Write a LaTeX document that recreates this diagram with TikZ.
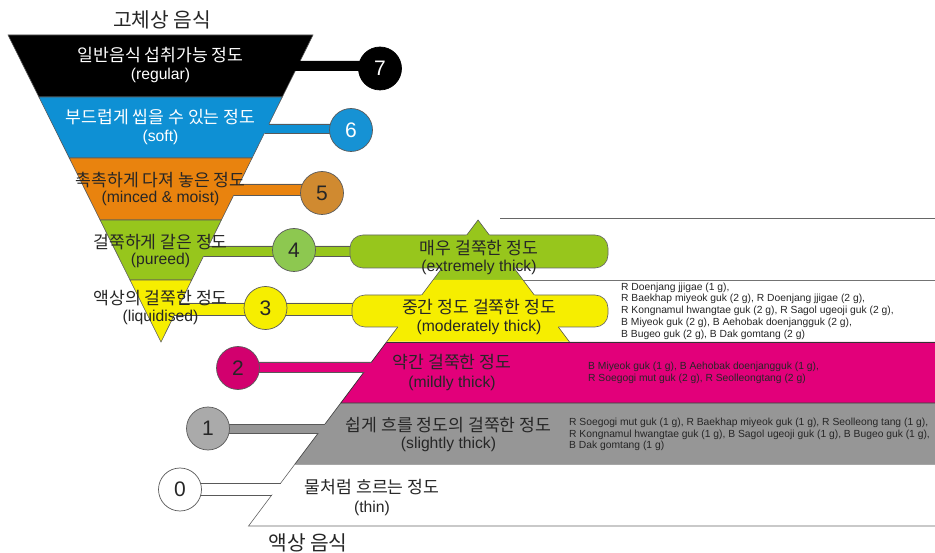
\documentclass[tikz,border=0pt]{standalone}
\usepackage{fontspec}
\setmainfont{Liberation Sans}
\newfontfamily\kr{Noto Sans CJK KR}
\definecolor{cblue}{RGB}{14,144,212}
\definecolor{corange}{RGB}{233,131,14}
\definecolor{cgreen}{RGB}{151,198,28}
\definecolor{cyellow}{RGB}{246,238,0}
\definecolor{cmag}{RGB}{226,0,122}
\definecolor{cgray}{RGB}{150,150,150}
\definecolor{ccirc5}{RGB}{208,138,48}
\definecolor{ccirc4}{RGB}{141,200,80}
\definecolor{ccirc2}{RGB}{210,0,110}
\definecolor{ccirc1}{RGB}{170,170,170}
\definecolor{ccirc6}{RGB}{22,146,212}
\begin{document}
\begin{tikzpicture}[x=1pt,y=-1pt,
  edge/.style={draw=black!65, line width=0.6pt},
  kor/.style={font=\kr\fontsize{17.2}{19}\selectfont, inner sep=0pt, anchor=base},
  lat/.style={font=\fontsize{15.7}{18}\selectfont, inner sep=0pt, anchor=base},
  ttl/.style={font=\kr\fontsize{20.3}{22}\selectfont, inner sep=0pt, anchor=base},
  num/.style={circle, minimum size=43pt, inner sep=0pt, draw=black!65, line width=0.7pt, font=\fontsize{21}{21}\selectfont},
  food/.style={font=\fontsize{10.3}{11.7}\selectfont, align=left, inner sep=0pt, anchor=west, text=black!85},
  pill/.style={rounded corners=13pt, draw=black!60, line width=0.6pt}
]
\useasboundingbox (0,0) rectangle (935,553);
\fill[white] (0,0) rectangle (935,553);

% right side lines
\draw[draw=black!60, line width=0.8pt] (500,218) -- (935,218);
\draw[draw=black!55, line width=0.8pt] (523,280) -- (935,280);

% inverted triangle
\filldraw[fill=black, edge] (8,35) -- (313,35) -- (282.3,97) -- (38.9,97) -- cycle;
\filldraw[fill=cblue, edge] (38.9,97) -- (282.3,97) -- (252.1,158) -- (69.3,158) -- cycle;
\filldraw[fill=corange, edge] (69.3,158) -- (252.1,158) -- (221.4,220) -- (100.1,220) -- cycle;
\filldraw[fill=cgreen, edge] (100.1,220) -- (221.4,220) -- (191.7,280) -- (130,280) -- cycle;
\filldraw[fill=cyellow, edge] (130,280) -- (191.7,280) -- (161,342) -- cycle;

% lower bands
\fill[cmag] (386.5,342) -- (935,342) -- (935,403) -- (340.75,403) -- cycle;
\fill[cgray] (340.75,403) -- (935,403) -- (935,464) -- (295,464) -- cycle;
\draw[draw=black!80, line width=0.7pt] (386.5,342) -- (340.75,403) -- (935,403);
\draw[draw=black!70, line width=0.7pt] (340.75,403) -- (295,464);
\draw[draw=black!35, line width=0.8pt] (295,464) -- (935,464);
\draw[draw=black!60, line width=0.6pt] (295,464) -- (248.5,526) -- (935,526);

% bars
\fill[black] (297,61) -- (380,61) -- (380,71) -- (292,71) -- cycle;
\fill[cblue] (266,124) -- (351,124) -- (351,133) -- (261.5,133) -- cycle;
\draw[edge] (268.9,124) -- (351,124) (264.5,133) -- (351,133);
\fill[corange] (236,184) -- (322,184) -- (322,195) -- (230.8,195) -- cycle;
\draw[edge] (239.2,184) -- (322,184) (233.8,195) -- (322,195);
\fill[cgreen] (205.6,246) -- (362,246) -- (362,256) -- (200.6,256) -- cycle;
\draw[edge] (208.6,246) -- (362,246) (203.6,256) -- (362,256);
\fill[cyellow] (177.3,303) -- (364,303) -- (364,315) -- (171.4,315) -- cycle;
\draw[edge] (180.3,303) -- (364,303) (174.4,315) -- (364,315);
\fill[cmag] (238,362) -- (374.5,362) -- (367,372) -- (238,372) -- cycle;
\draw[edge] (238,362) -- (371.5,362) (238,372) -- (364,372);
\fill[cgray] (208,424) -- (328,424) -- (321.2,433) -- (208,433) -- cycle;
\draw[edge] (208,424) -- (325,424) (208,433) -- (318.25,433);
\fill[white] (180,483.4) -- (283.7,483.4) -- (274.7,494.6) -- (180,494.6) -- cycle;
\draw[edge] (180,483) -- (280.75,483) (180,495) -- (271.75,495);

% pills
\filldraw[fill=cgreen, pill] (350,235) rectangle (608,268);
\filldraw[fill=cyellow, pill] (352,295) rectangle (608,327);

% pyramid
\fill[cgreen] (478,220) -- (523,280) -- (433,280) -- cycle;
\fill[cyellow] (433,280) -- (523,280) -- (569.5,341.6) -- (386.5,341.6) -- cycle;
\draw[edge] (466.75,235) -- (478,220) -- (489.25,235);
\draw[edge] (442,268) -- (421.75,295) (514,268) -- (534.25,295);
\draw[edge] (397.75,327) -- (386.5,342) (558.25,327) -- (569.5,342);
\draw[draw=black!80, line width=0.7pt] (386.5,342) -- (935,342);

% circles
\node[num, fill=black, draw=black, text=white] (c7) at (380,68.5) {7};
\node[num, fill=ccirc6, text=white] (c6) at (351,130) {6};
\node[num, fill=ccirc5, text=black!85] (c5) at (322,193) {5};
\node[num, fill=ccirc4, text=black!85] (c4) at (294,250) {4};
\node[num, fill=cyellow, text=black!85] (c3) at (265.5,308) {3};
\node[num, fill=ccirc2, text=black!85] (c2) at (238,368) {2};
\node[num, fill=ccirc1, text=black!85] (c1) at (208,428.5) {1};
\node[num, fill=white, text=black!85] (c0) at (180,489.5) {0};

% titles
\node[ttl, text=black!85] (top) at (162,27.5) {고체상 음식};
\node[ttl, text=black!85] (bot) at (308,550.5) {액상 음식};

% inverted triangle labels
\node[kor, text=white] (t7a) at (160.5,61.5) {일반음식 섭취가능 정도};
\node[lat, text=white] (t7b) at (160.5,80) {(regular)};
\node[kor, text=white] (t6a) at (160.5,123.5) {부드럽게 씹을 수 있는 정도};
\node[lat, text=white] (t6b) at (160.5,142) {(soft)};
\node[kor, text=black!85] (t5a) at (160.5,186.3) {촉촉하게 다져 놓은 정도};
\node[lat, text=black!85] (t5b) at (160.5,203) {(minced \& moist)};
\node[kor, text=black!85] (t4a) at (160.5,248.3) {걸쭉하게 갈은 정도};
\node[lat, text=black!85] (t4b) at (160.5,265) {(pureed)};
\node[kor, text=black!85] (t3a) at (160.5,304.3) {액상의 걸쭉한 정도};
\node[lat, text=black!85] (t3b) at (160.5,322) {(liquidised)};

% pyramid labels
\node[kor, text=black!85] (p4a) at (479,254.3) {매우 걸쭉한 정도};
\node[lat, text=black!85] (p4b) at (479,272) {(extremely thick)};
\node[kor, text=black!85] (p3a) at (479,313.3) {중간 정도 걸쭉한 정도};
\node[lat, text=black!85] (p3b) at (479,332) {(moderately thick)};
\node[kor, text=black!85] (p2a) at (452,368.3) {약간 걸쭉한 정도};
\node[lat, text=black!85] (p2b) at (452,388) {(mildly thick)};
\node[kor, text=black!85] (p1a) at (448.5,431.3) {쉽게 흐를 정도의 걸쭉한 정도};
\node[lat, text=black!85] (p1b) at (448.5,448) {(slightly thick)};
\node[kor, text=black!85] (p0a) at (372,493.3) {물처럼 흐르는 정도};
\node[lat, text=black!85] (p0b) at (372,512) {(thin)};

% food lists
\node[food] (f3) at (621,311) {R Doenjang jjigae (1 g),\\
R Baekhap miyeok guk (2 g), R Doenjang jjigae (2 g),\\
R Kongnamul hwangtae guk (2 g), R Sagol ugeoji guk (2 g),\\
B Miyeok guk (2 g), B Aehobak doenjangguk (2 g),\\
B Bugeo guk (2 g), B Dak gomtang (2 g)};
\node[food] (f2) at (588,372.5) {B Miyeok guk (1 g), B Aehobak doenjangguk (1 g),\\
R Soegogi mut guk (2 g), R Seolleongtang (2 g)};
\node[food] (f1) at (569,434.5) {R Soegogi mut guk (1 g), R Baekhap miyeok guk (1 g), R Seolleong tang (1 g),\\
R Kongnamul hwangtae guk (1 g), B Sagol ugeoji guk (1 g), B Bugeo guk (1 g),\\
B Dak gomtang (1 g)};
\end{tikzpicture}
\end{document}
